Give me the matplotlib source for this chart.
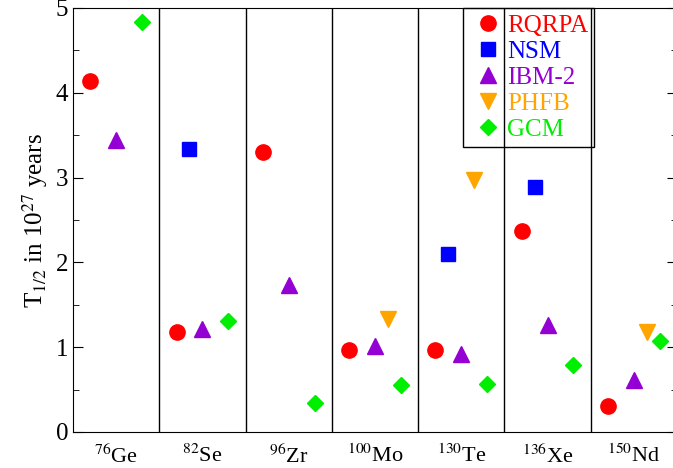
import matplotlib
matplotlib.use("Agg")
import matplotlib.pyplot as plt
from matplotlib.ticker import MultipleLocator
import numpy as np

plt.rcParams['font.family'] = ['Liberation Serif', 'DejaVu Serif']
plt.rcParams['mathtext.fontset'] = 'stix'

isotopes = [r'$^{76}$Ge', r'$^{82}$Se', r'$^{96}$Zr', r'$^{100}$Mo', r'$^{130}$Te', r'$^{136}$Xe', r'$^{150}$Nd']
series = ['RQRPA', 'NSM', 'IBM-2', 'PHFB', 'GCM']
nan = np.nan
rqrpa = [4.14, 1.18, 3.30, 0.97, 0.97, 2.37, 0.31]
nsm   = [nan, 3.34, nan, nan, 2.10, 2.89, nan]
ibm2  = [3.44, 1.21, 1.73, 1.02, 0.92, 1.26, 0.61]
phfb  = [nan, nan, nan, 1.33, 2.97, nan, 1.18]
gcm   = [4.83, 1.31, 0.34, 0.55, 0.57, 0.79, 1.07]

values = [rqrpa, nsm, ibm2, phfb, gcm]
offsets = [0.2, 0.35, 0.5, 0.65, 0.8]
markers = ['o', 's', '^', 'v', 'D']
sizes = [11, 9.5, 11, 11, 8.5]
colors = ['#ff0000', '#0000ff', '#9400d3', '#ffa500', '#00ee00']

fig = plt.figure(figsize=(6.73, 4.68), dpi=100)
ax = fig.add_axes([73/673, 36/468, 604/673, 424/468])

for i in range(1, len(isotopes)):
    ax.axvline(i, color='black', lw=1.0, zorder=1)

x = np.arange(len(isotopes))
for vals, off, m, s, c, name in zip(values, offsets, markers, sizes, colors, series):
    ax.plot(x + off, vals, linestyle='none', marker=m, markersize=s, color=c, label=name, zorder=3)

ax.set_xlim(0, len(isotopes))
ax.set_ylim(0, 5)
ax.set_xticks(x + 0.5)
ax.set_xticklabels(isotopes, fontsize=16)
ax.tick_params(axis='x', length=0, pad=9)
ax.yaxis.set_major_locator(MultipleLocator(1))
ax.yaxis.set_minor_locator(MultipleLocator(0.5))
ax.tick_params(axis='y', which='both', direction='in', right=True, labelsize=18)
ax.tick_params(axis='y', which='major', length=7)
ax.tick_params(axis='y', which='minor', length=4)
ax.set_ylabel(r'T$_{1/2}$ in 10$^{27}$ years', fontsize=18, labelpad=4)

leg = ax.legend(loc='upper left', bbox_to_anchor=(0.646, 1.0), borderaxespad=0,
                fancybox=False, edgecolor='black', facecolor='none', fontsize=18,
                handletextpad=0.0, labelspacing=0.14, borderpad=0.25, handlelength=1.5)
leg.get_frame().set_linewidth(1.0)
leg.get_frame().set_alpha(None)
for t, c in zip(leg.get_texts(), colors):
    t.set_color(c)

fig.savefig('out.png', dpi=100)
